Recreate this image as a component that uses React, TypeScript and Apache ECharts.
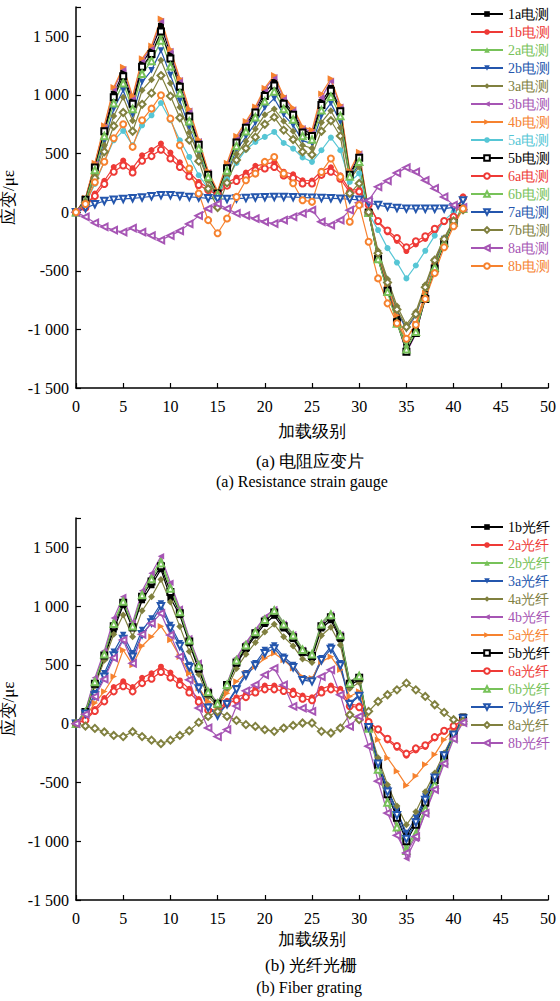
import React, { useEffect, useRef } from "react";
import * as echarts from "echarts";

// 加载级别 (load levels)
const LEVELS = [0,1,2,3,4,5,6,7,8,9,10,11,12,13,14,15,16,17,18,19,20,21,22,23,24,25,26,27,28,29,30,31,32,33,34,35,36,37,38,39,40,41];
const X_TICKS = [0, 5, 10, 15, 20, 25, 30, 35, 40, 45, 50];
const Y_TICKS = [-1500, -1000, -500, 0, 500, 1000, 1500];

// (a) 电阻应变片
const E_1a = [0,110,400,710,1010,1190,950,1270,1390,1590,1350,1100,840,590,330,165,390,610,740,870,1020,1110,950,850,700,670,940,1060,880,330,480,0,-380,-640,-900,-1150,-990,-700,-450,-250,-80,30];
const E_1b = [0,48,158,268,385,440,375,485,530,585,508,425,338,258,208,163,250,295,338,395,410,425,345,323,272,270,352,382,315,188,192,70,-85,-172,-245,-332,-275,-228,-158,-85,-40,135];
const E_2a = [0,100,375,680,970,1150,910,1225,1335,1525,1300,1060,810,570,315,160,370,590,715,840,985,1075,920,820,675,645,905,1030,855,320,445,0,-390,-660,-920,-1130,-1000,-720,-470,-260,-85,30];
const E_2b = [0,90,340,610,880,1040,830,1110,1210,1380,1170,950,725,510,285,145,335,530,645,760,890,970,830,740,610,585,820,930,770,290,410,5,-350,-600,-840,-1000,-880,-640,-420,-230,-75,25];
const E_3a = [0,85,320,570,820,980,780,1040,1130,1295,1100,895,680,480,270,130,315,495,605,710,830,880,775,690,570,545,765,865,720,280,386,10,-330,-570,-800,-960,-850,-620,-400,-220,-70,25];
const E_3b = [0,115,410,730,1050,1220,975,1295,1405,1630,1375,1125,865,605,340,170,405,630,760,885,1045,1150,975,875,715,685,975,1120,900,340,500,5,-390,-660,-930,-1200,-1040,-730,-480,-270,-90,35];
const E_4b = [0,120,420,740,1065,1238,990,1310,1420,1650,1390,1140,880,620,350,180,420,650,775,900,1060,1167,990,890,730,700,1010,1140,915,350,513,10,-360,-620,-880,-1080,-950,-690,-460,-260,-90,40];
const E_5a = [0,70,240,430,613,693,571,741,826,931,784,613,471,315,202,150,280,420,534,599,642,684,590,542,466,429,528,636,528,258,330,-11,-153,-307,-430,-565,-455,-330,-200,-70,0,50];
const E_5b = [0,105,380,690,980,1160,925,1240,1350,1540,1310,1070,815,575,320,160,375,595,720,850,990,1080,925,830,680,650,915,1035,860,320,465,-5,-400,-670,-940,-1190,-1030,-740,-480,-270,-90,30];
const E_6a = [0,40,138,240,345,398,338,438,478,532,458,385,305,232,188,148,226,266,305,358,372,385,312,292,245,245,318,345,285,168,175,62,-76,-156,-220,-300,-248,-206,-142,-76,-38,120];
const E_6b = [0,95,360,650,930,1100,880,1180,1290,1465,1245,1015,775,545,300,150,355,565,690,810,945,1030,880,790,650,620,870,985,820,305,430,-5,-400,-680,-950,-1170,-1020,-730,-470,-260,-85,30];
const E_7a = [0,34,68,95,105,113,118,125,135,145,145,138,130,125,118,113,112,116,120,125,128,130,130,128,125,122,120,118,115,110,105,80,60,45,35,30,28,28,28,30,40,100];
const E_7b = [0,80,290,515,735,850,690,920,1015,1165,990,805,615,435,200,40,250,445,545,640,750,810,700,620,515,490,690,780,650,160,245,0,-350,-600,-830,-980,-870,-640,-410,-230,-75,20];
const E_8a = [0,-40,-91,-125,-153,-170,-136,-170,-200,-238,-200,-160,-100,-30,30,70,30,-10,-30,-55,-82,-97,-68,-40,-11,17,-82,-111,-68,17,80,100,216,267,335,380,343,272,202,130,60,40];
const E_8b = [0,70,255,430,630,750,557,784,883,997,798,571,372,159,-68,-180,-54,130,272,329,429,471,329,247,102,88,343,457,301,-82,60,-253,-565,-778,-948,-1080,-960,-740,-520,-300,-120,30];

// (b) 光纤光栅
const F_1b = [0,100,330,560,800,1008,811,1050,1178,1314,1070,924,684,458,254,169,325,508,635,749,848,918,810,720,600,560,810,880,720,330,370,-20,-320,-560,-740,-950,-830,-640,-460,-270,-100,60];
const F_2a = [0,36,125,218,312,360,312,390,428,485,435,368,296,210,130,108,195,225,254,296,325,325,310,282,240,225,296,325,296,166,155,22,-55,-142,-205,-272,-228,-198,-126,-68,-25,36];
const F_2b = [0,105,370,600,870,1050,840,1110,1250,1395,1170,965,720,505,275,175,335,550,680,790,900,980,860,765,640,600,860,945,770,350,420,-30,-380,-650,-860,-1050,-920,-710,-510,-300,-110,40];
const F_3a = [0,93,260,429,613,754,599,797,895,1023,839,684,500,316,147,76,175,302,429,514,627,665,570,500,387,373,556,655,514,175,246,-20,-330,-560,-740,-930,-800,-620,-440,-260,-90,50];
const F_4a = [0,95,320,540,760,924,740,960,1080,1226,1036,826,615,420,230,150,300,470,590,690,780,845,740,660,550,520,750,820,670,300,350,-20,-290,-520,-700,-860,-750,-580,-420,-250,-90,50];
const F_4b = [0,110,390,620,900,1079,860,1130,1280,1424,1200,980,730,520,280,180,340,560,690,800,910,975,850,760,630,590,850,930,760,350,400,-40,-400,-680,-900,-1147,-980,-760,-540,-320,-120,20];
const F_5a = [0,60,175,274,401,627,500,661,740,830,712,570,429,302,189,147,260,359,429,486,556,599,542,471,400,386,528,570,458,232,274,34,-136,-291,-404,-525,-446,-347,-263,-136,-51,6];
const F_5b = [0,100,340,580,830,1030,820,1080,1210,1340,1120,940,700,470,260,170,330,520,650,770,870,945,830,735,615,575,830,905,740,340,390,-30,-350,-600,-800,-1000,-860,-670,-480,-280,-100,50];
const F_6a = [0,30,108,190,275,318,275,345,382,440,392,330,265,186,114,95,172,200,226,265,292,292,278,252,212,200,265,292,265,148,140,15,-48,-128,-190,-255,-210,-184,-114,-60,-20,30];
const F_6b = [0,100,355,590,850,1040,830,1095,1230,1365,1150,950,710,495,270,172,332,540,668,780,885,962,845,752,630,590,845,925,755,345,405,-40,-390,-670,-880,-1080,-940,-730,-520,-310,-115,30];
const F_7b = [0,85,240,400,580,720,570,760,860,1000,810,660,480,300,135,70,165,290,410,495,600,640,550,480,370,360,540,635,495,165,235,-30,-340,-580,-780,-980,-840,-650,-460,-270,-95,45];
const F_8a = [0,-20,-40,-70,-100,-110,-68,-110,-140,-170,-140,-100,-60,11,62,104,62,28,-8,-23,-51,-65,-37,-15,6,6,-65,-79,-37,76,34,105,189,246,288,345,288,232,161,96,34,20];
const F_8b = [0,80,230,380,560,712,514,760,853,938,754,570,373,133,-36,-110,-50,150,280,330,415,471,330,147,133,105,400,458,246,-23,62,-192,-489,-760,-950,-1100,-960,-760,-560,-340,-130,10];

const BLACK = "#000000";
const RED = "#ee3a36";
const GREEN = "#77c259";
const BLUE = "#2456ad";
const OLIVE = "#80803f";
const PURPLE = "#a655b4";
const ORANGE = "#f6822f";
const CYAN = "#56c6d5";

type Spec = { name: string; data: number[]; color: string; symbol: string; rotate: number };

const TOP: Spec[] = [
  { name: "1a电测", data: E_1a, color: BLACK, symbol: "rect", rotate: 0 },
  { name: "1b电测", data: E_1b, color: RED, symbol: "circle", rotate: 0 },
  { name: "2a电测", data: E_2a, color: GREEN, symbol: "triangle", rotate: 0 },
  { name: "2b电测", data: E_2b, color: BLUE, symbol: "triangle", rotate: 180 },
  { name: "3a电测", data: E_3a, color: OLIVE, symbol: "diamond", rotate: 0 },
  { name: "3b电测", data: E_3b, color: PURPLE, symbol: "triangle", rotate: 90 },
  { name: "4b电测", data: E_4b, color: ORANGE, symbol: "triangle", rotate: -90 },
  { name: "5a电测", data: E_5a, color: CYAN, symbol: "circle", rotate: 0 },
  { name: "5b电测", data: E_5b, color: BLACK, symbol: "emptyRect", rotate: 0 },
  { name: "6a电测", data: E_6a, color: RED, symbol: "emptyCircle", rotate: 0 },
  { name: "6b电测", data: E_6b, color: GREEN, symbol: "emptyTriangle", rotate: 0 },
  { name: "7a电测", data: E_7a, color: BLUE, symbol: "emptyTriangle", rotate: 180 },
  { name: "7b电测", data: E_7b, color: OLIVE, symbol: "emptyDiamond", rotate: 0 },
  { name: "8a电测", data: E_8a, color: PURPLE, symbol: "emptyTriangle", rotate: 90 },
  { name: "8b电测", data: E_8b, color: ORANGE, symbol: "emptyCircle", rotate: 0 },
];

const BOTTOM: Spec[] = [
  { name: "1b光纤", data: F_1b, color: BLACK, symbol: "rect", rotate: 0 },
  { name: "2a光纤", data: F_2a, color: RED, symbol: "circle", rotate: 0 },
  { name: "2b光纤", data: F_2b, color: GREEN, symbol: "triangle", rotate: 0 },
  { name: "3a光纤", data: F_3a, color: BLUE, symbol: "triangle", rotate: 180 },
  { name: "4a光纤", data: F_4a, color: OLIVE, symbol: "diamond", rotate: 0 },
  { name: "4b光纤", data: F_4b, color: PURPLE, symbol: "triangle", rotate: 90 },
  { name: "5a光纤", data: F_5a, color: ORANGE, symbol: "triangle", rotate: -90 },
  { name: "5b光纤", data: F_5b, color: BLACK, symbol: "emptyRect", rotate: 0 },
  { name: "6a光纤", data: F_6a, color: RED, symbol: "emptyCircle", rotate: 0 },
  { name: "6b光纤", data: F_6b, color: GREEN, symbol: "emptyTriangle", rotate: 0 },
  { name: "7b光纤", data: F_7b, color: BLUE, symbol: "emptyTriangle", rotate: 180 },
  { name: "8a光纤", data: F_8a, color: OLIVE, symbol: "emptyDiamond", rotate: 0 },
  { name: "8b光纤", data: F_8b, color: PURPLE, symbol: "emptyTriangle", rotate: 90 },
];

const FONT = "Liberation Serif";

function fmtY(v: number): string {
  if (!Y_TICKS.includes(v)) return "";
  const sign = v < 0 ? "-" : "";
  const a = Math.abs(v);
  if (a >= 1000) {
    return sign + Math.floor(a / 1000) + " " + String(a % 1000).padStart(3, "0");
  }
  return sign + a;
}

function fmtX(v: number): string {
  return X_TICKS.includes(v) ? String(v) : "";
}

function symSize(sym: string): number {
  const s = sym.toLowerCase();
  if (s.includes("triangle")) return 6.5;
  if (s.includes("diamond")) return 7;
  return 6;
}

function makeSeries(specs: Spec[], gi: number) {
  return specs.map((s) => ({
    type: "line",
    name: s.name,
    xAxisIndex: gi,
    yAxisIndex: gi,
    data: LEVELS.map((x, i) => [x, s.data[i]]),
    symbol: s.symbol,
    symbolRotate: s.rotate,
    symbolSize: symSize(s.symbol),
    itemStyle: { color: s.color, borderWidth: 1 },
    lineStyle: { color: s.color, width: 1.2 },
    emphasis: { disabled: true },
  }));
}

function axisX(gi: number, gap: number) {
  return {
    type: "value",
    gridIndex: gi,
    min: 0,
    max: 50,
    interval: 5,
    name: "加载级别",
    nameLocation: "middle",
    nameGap: gap,
    nameTextStyle: { fontFamily: FONT, fontSize: 17, color: "#000" },
    axisLine: { onZero: false, lineStyle: { color: "#000", width: 1.5 } },
    axisTick: { inside: true, length: 5, lineStyle: { color: "#000", width: 1.2 } },
    axisLabel: { margin: 10, fontFamily: FONT, fontSize: 16, color: "#000", formatter: fmtX },
    splitLine: { show: false },
  };
}

function axisY(gi: number) {
  return {
    type: "value",
    gridIndex: gi,
    min: -1500,
    max: 1750,
    interval: 500,
    name: "应变/με",
    nameLocation: "middle",
    nameGap: 47,
    nameTextStyle: { fontFamily: FONT, fontSize: 17, color: "#000" },
    axisLine: { onZero: false, lineStyle: { color: "#000", width: 1.5 } },
    axisTick: { inside: true, length: 5, lineStyle: { color: "#000", width: 1.2 } },
    axisLabel: { margin: 7, fontFamily: FONT, fontSize: 16, color: "#000", formatter: fmtY },
    splitLine: { show: false },
  };
}

function legend(specs: Spec[], top: number) {
  return {
    orient: "vertical",
    left: 470,
    top: top,
    padding: 0,
    itemWidth: 32,
    itemHeight: 7,
    itemGap: 4,
    selectedMode: false,
    textStyle: { fontFamily: FONT, fontSize: 14 },
    data: specs.map((s) => ({ name: s.name, textStyle: { color: s.color, fontFamily: FONT, fontSize: 14 } })),
  };
}

function caption(text: string, x: number, y: number, size: number) {
  return {
    type: "text",
    x: x,
    y: y,
    style: { text, align: "center", verticalAlign: "middle", font: size + "px Liberation Serif", fill: "#000" },
  };
}

export default function App() {
  const ref = useRef<HTMLDivElement>(null);
  useEffect(() => {
    if (!ref.current) return;
    const chart = echarts.init(ref.current, null, { renderer: "svg" });
    chart.setOption({
      animation: false,
      backgroundColor: "#ffffff",
      textStyle: { fontFamily: FONT },
      grid: [
        { left: 76, right: 12, top: 7, height: 381, outerBoundsMode: "none", containLabel: false },
        { left: 76, right: 12, top: 518, height: 382, outerBoundsMode: "none", containLabel: false },
      ],
      xAxis: [axisX(0, 35), axisX(1, 31)],
      yAxis: [axisY(0), axisY(1)],
      legend: [legend(TOP, 7), legend(BOTTOM, 520)],
      series: [...makeSeries(TOP, 0), ...makeSeries(BOTTOM, 1)],
      graphic: [
        caption("(a) 电阻应变片", 310, 461, 17),
        caption("(a) Resistance strain gauge", 302, 481, 16),
        caption("(b) 光纤光栅", 311, 965, 17),
        caption("(b) Fiber grating", 309, 987, 16),
      ],
    });
    return () => chart.dispose();
  }, []);
  return (
    <div
      ref={ref}
      style={{ position: "absolute", left: 0, top: 0, width: 560, height: 1001, background: "#fff" }}
    />
  );
}
